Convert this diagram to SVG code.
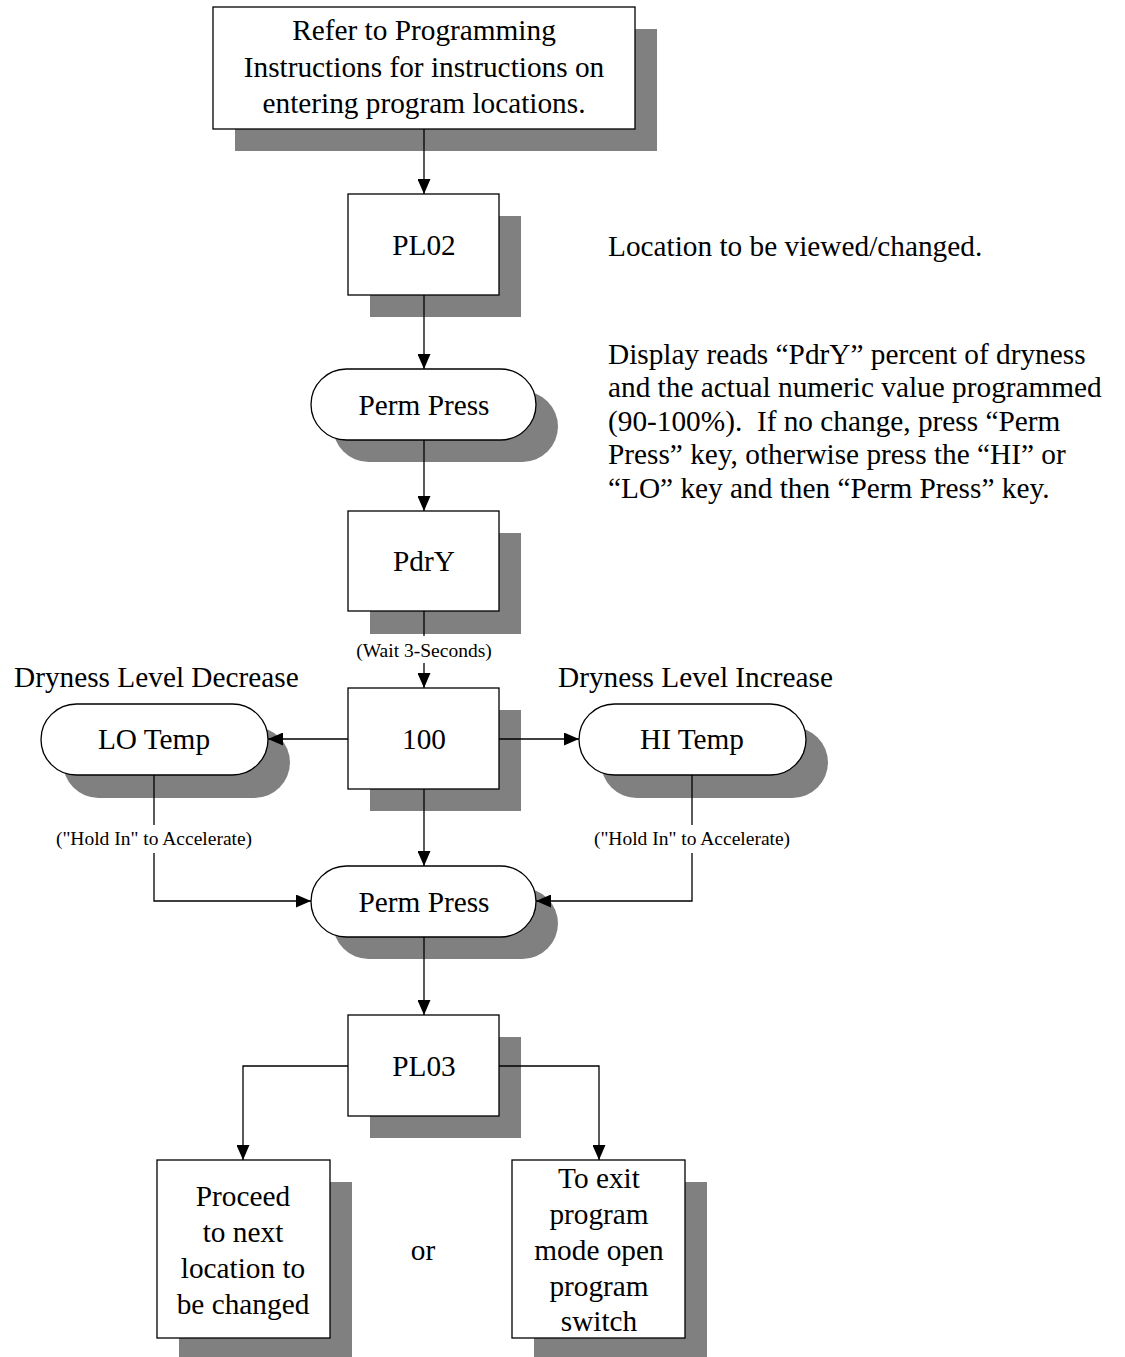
<svg xmlns="http://www.w3.org/2000/svg" width="1125" height="1357" viewBox="0 0 1125 1357">
<defs>
<style>
.t{font-family:"Liberation Serif","Times New Roman",serif;font-size:29.3px;fill:#000;white-space:pre}
.c{text-anchor:middle}
.s{font-family:"Liberation Serif","Times New Roman",serif;font-size:19.5px;fill:#000;text-anchor:middle}
.box{fill:#fff;stroke:#000;stroke-width:1.3}
.sh{fill:#808080;stroke:none}
.ln{fill:none;stroke:#000;stroke-width:1.3}
</style>
<marker id="ah" markerUnits="userSpaceOnUse" markerWidth="15" markerHeight="13" refX="15" refY="6.5" orient="auto">
<path d="M0,0 L15,6.5 L0,13 z" fill="#000"/>
</marker>
</defs>
<rect width="1125" height="1357" fill="#fff"/>

<g id="start">
<rect class="sh" x="235" y="29" width="422" height="122"/>
<rect class="box" x="213" y="7" width="422" height="122"/>
<text class="t c" x="424" y="40">Refer to Programming</text>
<text class="t c" x="424" y="77">Instructions for instructions on</text>
<text class="t c" x="424" y="113">entering program locations.</text>
</g>

<g id="pl02">
<rect class="sh" x="370" y="216" width="151" height="101"/>
<rect class="box" x="348" y="194" width="151" height="101"/>
<text class="t c" x="424" y="255">PL02</text>
</g>

<g id="permpress1">
<rect class="sh" x="333" y="391" width="225" height="71" rx="35.5"/>
<rect class="box" x="311" y="369" width="225" height="71" rx="35.5"/>
<text class="t c" x="424" y="415">Perm Press</text>
</g>

<g id="pdry">
<rect class="sh" x="370" y="533" width="151" height="101"/>
<rect class="box" x="348" y="511" width="151" height="100"/>
<text class="t c" x="424" y="571">PdrY</text>
</g>

<g id="val100">
<rect class="sh" x="370" y="710" width="151" height="101"/>
<rect class="box" x="348" y="688" width="151" height="101"/>
<text class="t c" x="424" y="749">100</text>
</g>

<g id="lotemp">
<rect class="sh" x="63" y="727" width="227" height="71" rx="35.5"/>
<rect class="box" x="41" y="704" width="227" height="71" rx="35.5"/>
<text class="t c" x="154" y="749">LO Temp</text>
</g>

<g id="hitemp">
<rect class="sh" x="601" y="727" width="227" height="71" rx="35.5"/>
<rect class="box" x="579" y="704" width="227" height="71" rx="35.5"/>
<text class="t c" x="692" y="749">HI Temp</text>
</g>

<g id="permpress2">
<rect class="sh" x="333" y="888" width="225" height="71" rx="35.5"/>
<rect class="box" x="311" y="866" width="225" height="71" rx="35.5"/>
<text class="t c" x="424" y="912">Perm Press</text>
</g>

<g id="pl03">
<rect class="sh" x="370" y="1037" width="151" height="101"/>
<rect class="box" x="348" y="1015" width="151" height="101"/>
<text class="t c" x="424" y="1076">PL03</text>
</g>

<g id="proceed">
<rect class="sh" x="179" y="1182" width="173" height="178"/>
<rect class="box" x="157" y="1160" width="173" height="178"/>
<text class="t c" x="243" y="1206">Proceed</text>
<text class="t c" x="243" y="1242">to next</text>
<text class="t c" x="243" y="1278">location to</text>
<text class="t c" x="243" y="1314">be changed</text>
</g>

<g id="exit">
<rect class="sh" x="534" y="1182" width="173" height="178"/>
<rect class="box" x="512" y="1160" width="173" height="178"/>
<text class="t c" x="599" y="1188">To exit</text>
<text class="t c" x="599" y="1224">program</text>
<text class="t c" x="599" y="1260">mode open</text>
<text class="t c" x="599" y="1296">program</text>
<text class="t c" x="599" y="1331">switch</text>
</g>

<g id="labels">
<text class="t" x="14" y="687">Dryness Level Decrease</text>
<text class="t" x="558" y="687">Dryness Level Increase</text>
<text class="t c" x="423" y="1260">or</text>
<text class="t" x="608" y="256">Location to be viewed/changed.</text>
<text class="t" x="608" y="364">Display reads “PdrY” percent of dryness</text>
<text class="t" x="608" y="397">and the actual numeric value programmed</text>
<text class="t" x="608" y="431" xml:space="preserve">(90-100%).  If no change, press “Perm</text>
<text class="t" x="608" y="464">Press” key, otherwise press the “HI” or</text>
<text class="t" x="608" y="498">“LO” key and then “Perm Press” key.</text>
</g>

<g id="connectors">
<path class="ln" d="M424,129 V194" marker-end="url(#ah)"/>
<path class="ln" d="M424,295 V369" marker-end="url(#ah)"/>
<path class="ln" d="M424,440 V511" marker-end="url(#ah)"/>
<path class="ln" d="M424,611 V636"/>
<path class="ln" d="M424,663 V688" marker-end="url(#ah)"/>
<path class="ln" d="M348,739 H268" marker-end="url(#ah)"/>
<path class="ln" d="M499,739 H579" marker-end="url(#ah)"/>
<path class="ln" d="M424,789 V866" marker-end="url(#ah)"/>
<path class="ln" d="M154,775 V825"/>
<path class="ln" d="M154,853 V901 H311" marker-end="url(#ah)"/>
<path class="ln" d="M692,775 V825"/>
<path class="ln" d="M692,853 V901 H536" marker-end="url(#ah)"/>
<path class="ln" d="M424,937 V1015" marker-end="url(#ah)"/>
<path class="ln" d="M348,1066 H243 V1160" marker-end="url(#ah)"/>
<path class="ln" d="M499,1066 H599 V1160" marker-end="url(#ah)"/>
<text class="s" x="424" y="657">(Wait 3-Seconds)</text>
<text class="s" x="154" y="845">("Hold In" to Accelerate)</text>
<text class="s" x="692" y="845">("Hold In" to Accelerate)</text>
</g>
</svg>
